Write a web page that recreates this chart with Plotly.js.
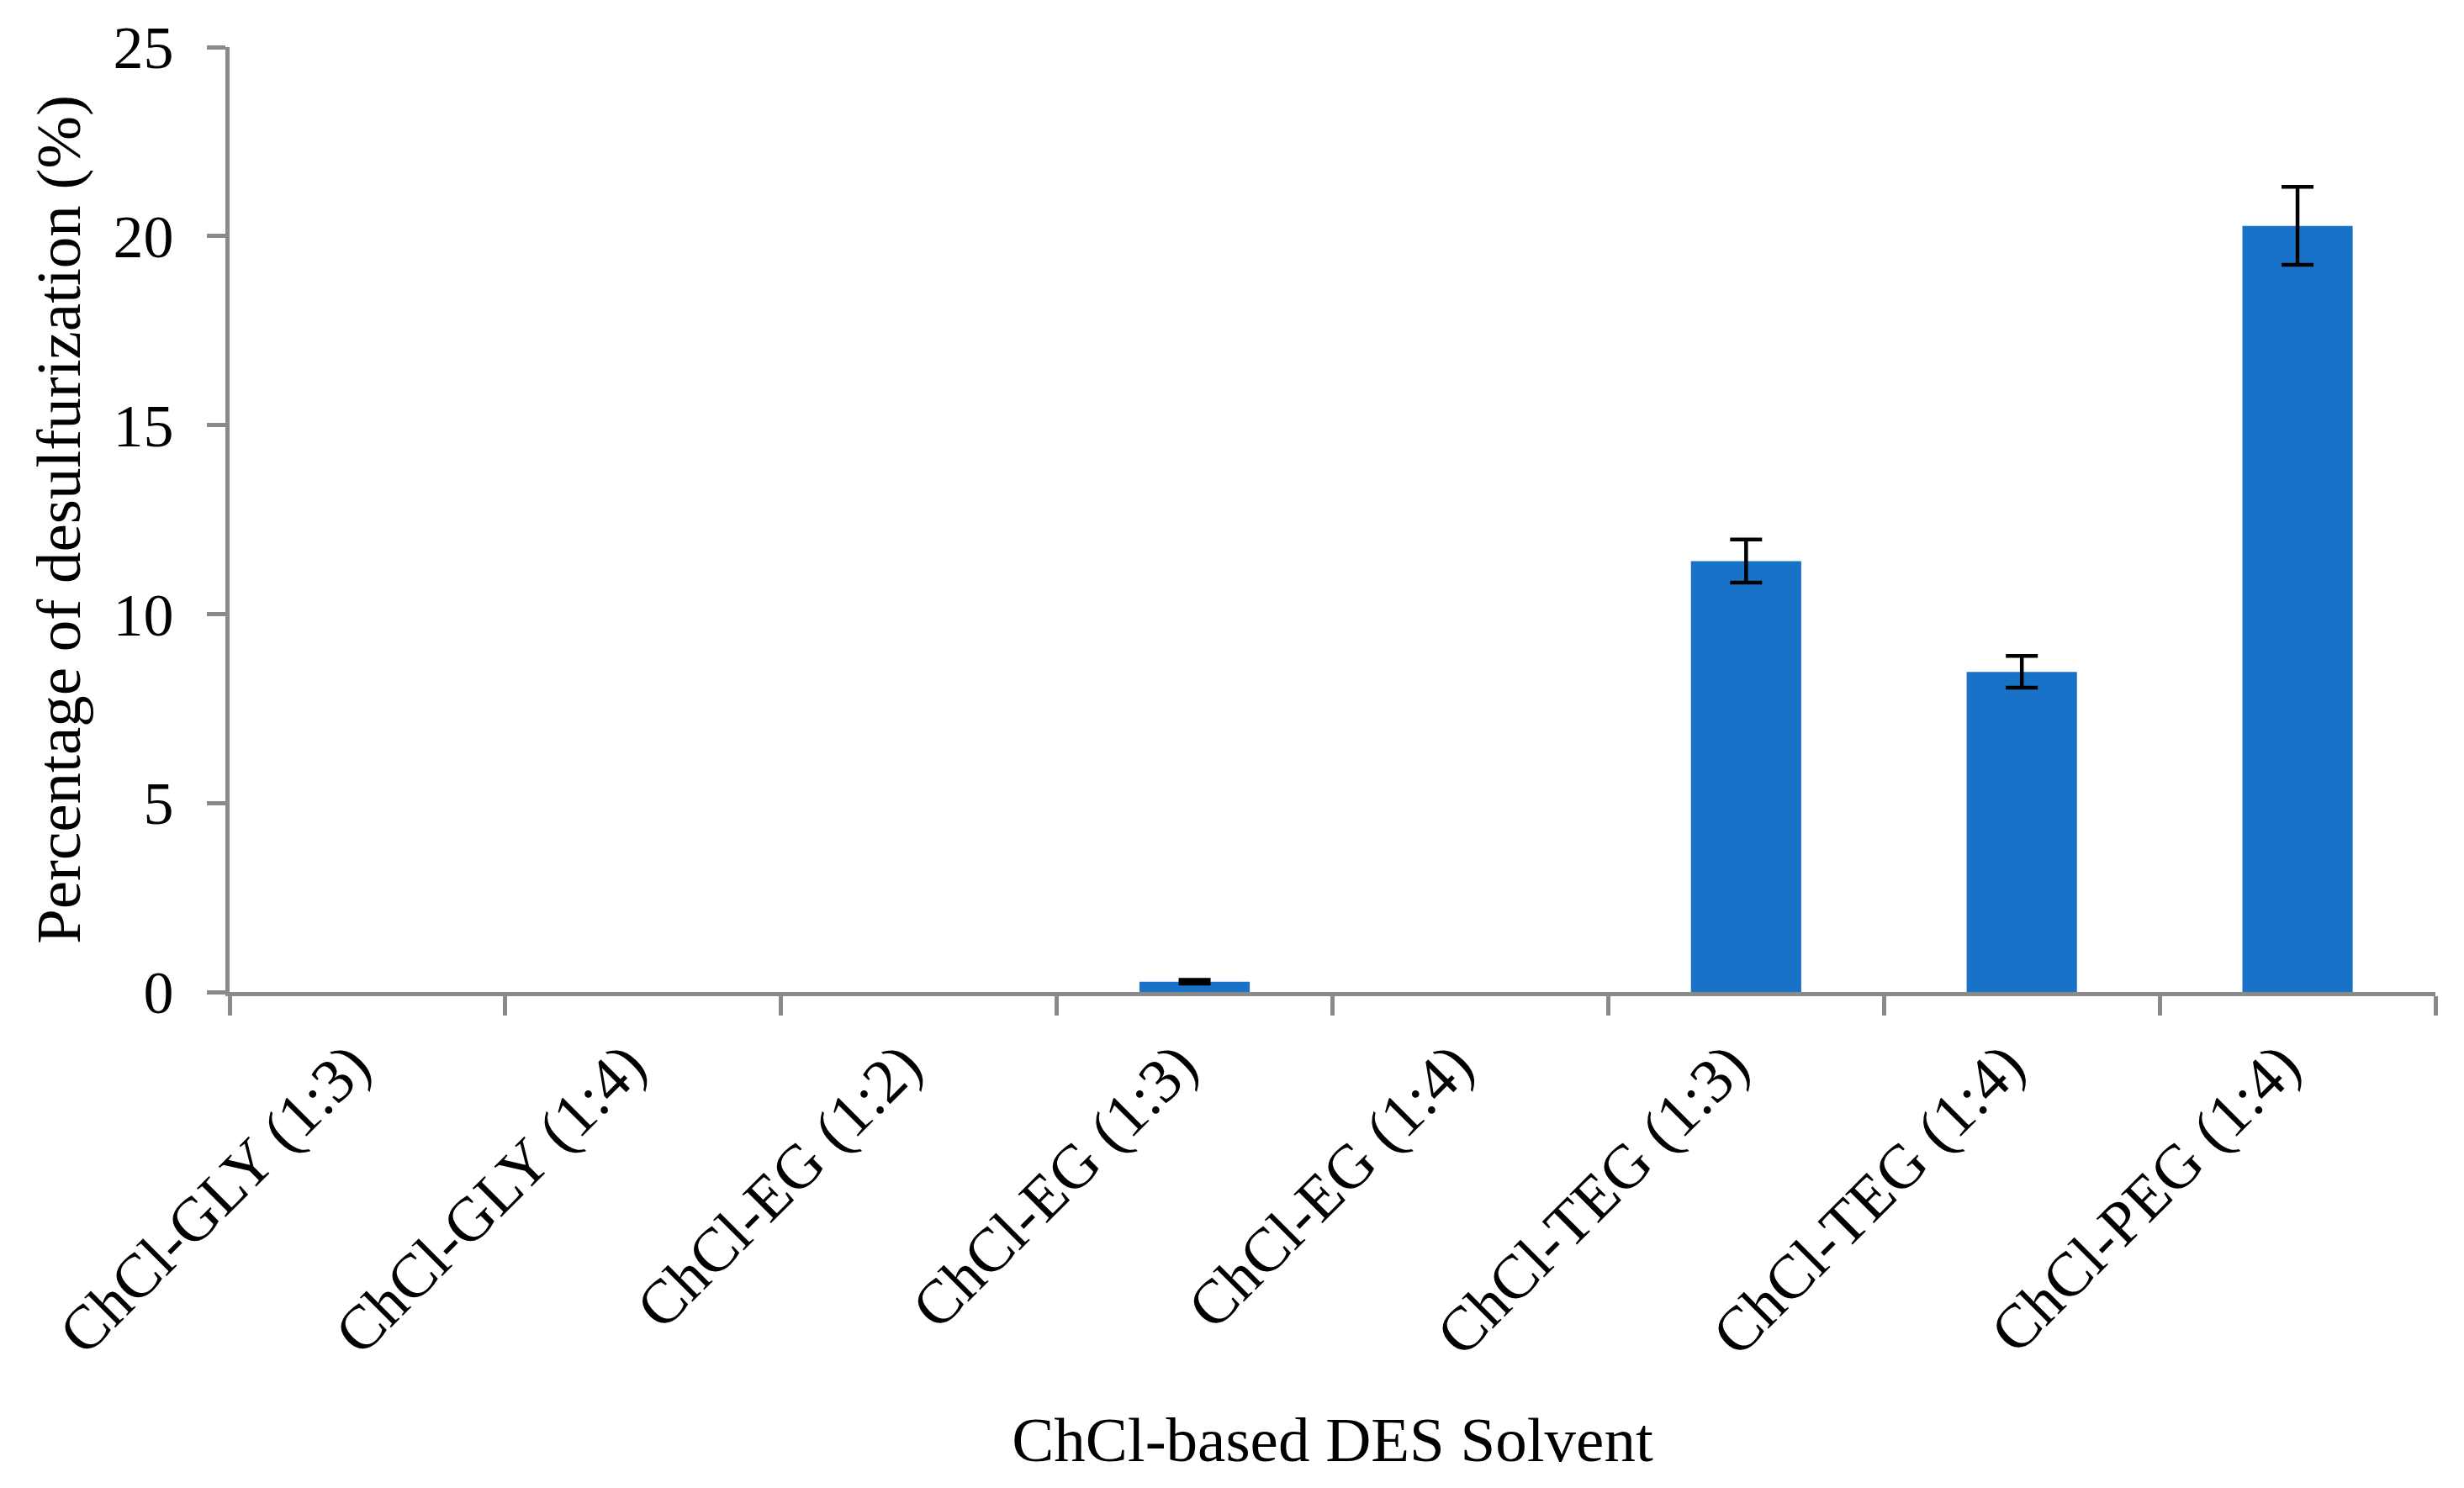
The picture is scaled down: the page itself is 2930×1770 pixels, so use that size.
<!DOCTYPE html>
<html>
<head>
<meta charset="utf-8">
<script src="https://cdn.plot.ly/plotly-3.0.1.min.js"></script>
<style>
  body { margin: 0; background: #fff; }
  #myGraph1 { width: 2930px; height: 1770px; }
</style>
</head>
<body>
<div id="myGraph1"></div>
<script>
let myGraph1 = document.getElementById('myGraph1');

// 溶劑種類
let solvents = [
    'ChCl-GLY (1:3)', 'ChCl-GLY (1:4)', 'ChCl-EG (1:2)', 'ChCl-EG (1:3)',
    'ChCl-EG (1:4)', 'ChCl-TEG (1:3)', 'ChCl-TEG (1:4)', 'ChCl-PEG (1:4)'
];

// 脫硫百分比 (%)
let desulf = [0, 0, 0, 0.27, 0, 11.4, 8.47, 20.27];

// 誤差 (null = 沒有誤差棒)
let desulfErr = [null, null, null, 0.05, null, 0.57, 0.42, 1.03];

let yTicks = [0, 5, 10, 15, 20, 25];

let axisGrey = '#8a8a8a';
let serif = 'Liberation Serif, Times New Roman, serif';

let trace1 = {
    type: 'bar',
    x: solvents,
    y: desulf,
    width: 0.4,
    marker: { color: '#1873C8', line: { width: 0 } },
    error_y: {
        type: 'data',
        array: desulfErr.map(e => (e === null ? NaN : e)),
        visible: true,
        color: '#000000',
        thickness: 4.5,
        width: 19
    },
    hoverinfo: 'x+y'
};

let layout = {
    width: 2930,
    height: 1770,
    margin: { l: 273, r: 34, t: 56, b: 590, autoexpand: false },
    paper_bgcolor: '#ffffff',
    plot_bgcolor: '#ffffff',
    showlegend: false,
    font: { family: serif, color: '#000000', size: 72 },
    xaxis: {
        type: 'category',
        range: [-0.5, 7.5],
        tickangle: -45,
        tickson: 'boundaries',
        ticks: 'outside',
        ticklen: 23,
        tickwidth: 5,
        tickcolor: axisGrey,
        ticklabelstandoff: 9,
        ticklabelshift: -19,
        showline: true,
        linecolor: axisGrey,
        linewidth: 5,
        showgrid: false,
        zeroline: false,
        automargin: false,
        tickfont: { family: serif, size: 74, color: '#000000' },
        title: {
            text: 'ChCl-based DES Solvent',
            font: { family: serif, size: 75, color: '#000000' },
            standoff: 60
        }
    },
    yaxis: {
        range: [0, 25],
        tickvals: yTicks,
        ticktext: yTicks.map(String),
        ticks: 'outside',
        ticklen: 22,
        tickwidth: 5,
        tickcolor: axisGrey,
        ticklabelstandoff: 25,
        showline: true,
        linecolor: axisGrey,
        linewidth: 5,
        showgrid: false,
        zeroline: false,
        automargin: false,
        tickfont: { family: serif, size: 72, color: '#000000' },
        title: {
            text: 'Percentage of desulfurization (%)',
            font: { family: serif, size: 75, color: '#000000' },
            standoff: 16
        }
    }
};

Plotly.newPlot(myGraph1, [trace1], layout, { displayModeBar: false, staticPlot: true });
</script>
</body>
</html>
